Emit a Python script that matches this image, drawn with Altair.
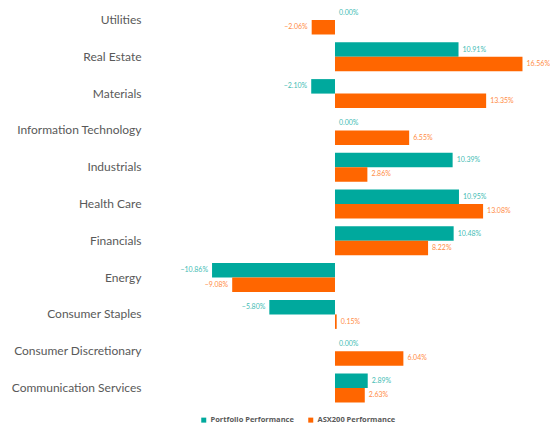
import altair as alt
import pandas as pd

categories = ["Utilities", "Real Estate", "Materials", "Information Technology",
              "Industrials", "Health Care", "Financials", "Energy",
              "Consumer Staples", "Consumer Discretionary", "Communication Services"]
portfolio = [0.00, 10.91, -2.10, 0.00, 10.39, 10.95, 10.48, -10.86, -5.80, 0.00, 2.89]
asx200 = [-2.06, 16.56, 13.35, 6.55, 2.86, 13.08, 8.22, -9.08, 0.15, 6.04, 2.63]
series = ["Portfolio Performance", "ASX200 Performance"]
bar_colors = ["#00A99D", "#FF6600"]
label_colors = ["#45BDB5", "#FF8C45"]

rows = []
for c, p, a in zip(categories, portfolio, asx200):
    rows.append({"category": c, "series": series[0], "value": p, "tc": label_colors[0]})
    rows.append({"category": c, "series": series[1], "value": a, "tc": label_colors[1]})
df = pd.DataFrame(rows)

y = alt.Y("category:N", sort=categories,
          scale=alt.Scale(range=[-6.4, 398.4], paddingInner=0.212, paddingOuter=0.106),
          axis=alt.Axis(title=None, domain=False, ticks=False, grid=False,
                        labelPadding=9, labelFont="Lato", labelFontSize=12,
                        labelColor="#595959", labelLimit=200))
yoff = alt.YOffset("series:N", sort=series,
                   scale=alt.Scale(domain=series, paddingInner=0, paddingOuter=0))
x = alt.X("value:Q", stack=None,
          scale=alt.Scale(domain=[-16.34, 18.99], nice=False, zero=False),
          axis=None)

base = alt.Chart(df).encode(y=y, yOffset=yoff).transform_calculate(
    label="format(datum.value, '.2f') + '%'")

bars = base.transform_filter("datum.value != 0").mark_bar().encode(
    x=x, x2=alt.datum(0),
    color=alt.Color("series:N", sort=series,
                    scale=alt.Scale(domain=series, range=bar_colors),
                    legend=alt.Legend(orient="none", legendX=50, legendY=408,
                                      direction="horizontal", title=None,
                                      symbolType="square", symbolSize=25,
                                      labelFont="Open Sans", labelFontSize=7.5,
                                      labelFontWeight="bold", labelColor="#595959",
                                      columnPadding=13, labelOffset=3)))

pos = base.transform_filter("datum.value >= 0").mark_text(
    align="left", dx=4, fontSize=7, font="Lato", baseline="middle").encode(
    x=x, text="label:N", fill=alt.Fill("tc:N", scale=None))

neg = base.transform_filter("datum.value < 0").mark_text(
    align="right", dx=-4, fontSize=7, font="Lato", baseline="middle").encode(
    x=x, text="label:N", fill=alt.Fill("tc:N", scale=None))

chart = alt.layer(bars, pos, neg).properties(
    width=400, height=415,
    autosize=alt.AutoSizeParams(type="none"),
    padding={"left": 142, "top": 0, "right": 0, "bottom": 0}
).configure_view(stroke=None)

chart.save("out.html", embed_options={"renderer": "svg", "actions": False})
